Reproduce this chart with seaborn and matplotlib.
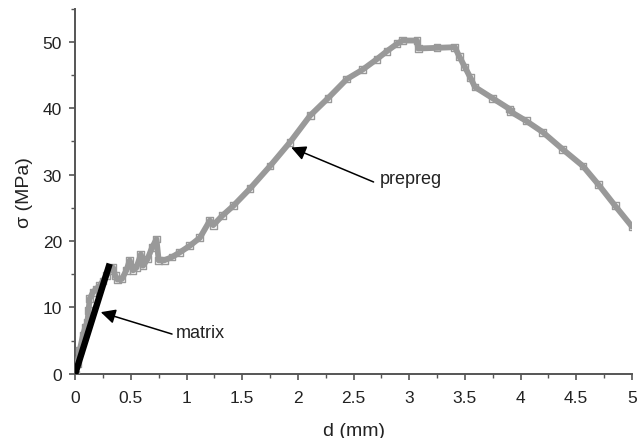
import matplotlib
matplotlib.use("Agg")
import matplotlib.pyplot as plt
import seaborn as sns
import pandas as pd
from matplotlib.ticker import MultipleLocator

# ---- data ----
prepreg_d = [0.00, 0.02, 0.04, 0.07, 0.09, 0.11, 0.12, 0.13, 0.16, 0.19, 0.22, 0.25,
             0.28, 0.31, 0.34, 0.36, 0.38, 0.42, 0.46, 0.49, 0.52, 0.55, 0.59, 0.61,
             0.65, 0.69, 0.73, 0.75, 0.80, 0.87, 0.94, 1.03, 1.12, 1.21, 1.24, 1.32,
             1.42, 1.57, 1.75, 1.93, 2.11, 2.27, 2.44, 2.58, 2.71, 2.80, 2.89, 2.94,
             3.07, 3.08, 3.25, 3.41, 3.45, 3.50, 3.55, 3.59, 3.75, 3.90, 3.91, 4.05,
             4.20, 4.38, 4.56, 4.70, 4.85, 5.00]
prepreg_s = [0.0, 1.5, 3.5, 5.8, 7.0, 7.8, 9.5, 11.3, 12.3, 12.8, 13.3, 14.0,
             14.8, 15.6, 16.0, 14.8, 14.2, 14.3, 15.6, 17.1, 15.6, 16.0, 18.0, 16.3,
             17.3, 19.0, 20.3, 17.1, 17.1, 17.6, 18.3, 19.3, 20.5, 23.1, 22.4, 23.8,
             25.3, 27.9, 31.3, 34.9, 38.9, 41.5, 44.4, 45.8, 47.4, 48.6, 49.7, 50.2,
             50.2, 49.0, 49.1, 49.2, 47.8, 46.2, 44.6, 43.2, 41.5, 39.9, 39.5, 38.1,
             36.4, 33.8, 31.3, 28.5, 25.3, 22.2]
matrix_d = [0.00, 0.31]
matrix_s = [0.0, 16.6]

x_ticks = [0, 0.5, 1, 1.5, 2, 2.5, 3, 3.5, 4, 4.5, 5]
x_tick_labels = ["0", "0.5", "1", "1.5", "2", "2.5", "3", "3.5", "4", "4.5", "5"]
y_ticks = [0, 10, 20, 30, 40, 50]

prepreg = pd.DataFrame({"d": prepreg_d, "s": prepreg_s})
matrix = pd.DataFrame({"d": matrix_d, "s": matrix_s})

sns.set_style("ticks")
plt.rcParams["font.family"] = ["Liberation Sans", "DejaVu Sans"]

fig = plt.figure(figsize=(6.37, 4.39), dpi=100)
ax = fig.add_axes([0.118, 0.146, 0.874, 0.832])

gray = "#999999"
sns.lineplot(data=prepreg, x="d", y="s", ax=ax, color=gray, lw=4.2,
             sort=False, estimator=None, zorder=2)
sns.scatterplot(data=prepreg, x="d", y="s", ax=ax, marker="s", s=24,
                facecolor="none", edgecolor=gray, linewidth=1.0, zorder=3)
sns.lineplot(data=matrix, x="d", y="s", ax=ax, color="black", lw=4.6,
             sort=False, estimator=None, zorder=4, solid_capstyle="butt")

ax.set_xlim(0, 5)
ax.set_ylim(0, 55)
ax.set_xticks(x_ticks)
ax.set_xticklabels(x_tick_labels)
ax.set_yticks(y_ticks)
ax.xaxis.set_minor_locator(MultipleLocator(0.25))
ax.yaxis.set_minor_locator(MultipleLocator(5))

spine_c = "#555555"
txt_c = "#222222"
for side in ["top", "right"]:
    ax.spines[side].set_visible(False)
for side in ["left", "bottom"]:
    ax.spines[side].set_color(spine_c)
    ax.spines[side].set_linewidth(1.4)
    ax.spines[side].set_zorder(1)
ax.tick_params(which="major", length=4.5, width=1.2, color=spine_c,
               labelsize=12.5, labelcolor=txt_c)
ax.tick_params(axis="x", which="major", pad=7)
ax.tick_params(axis="y", which="major", pad=5)
ax.tick_params(which="minor", length=3, width=1.0, color=spine_c)

ax.set_xlabel("d (mm)", fontsize=14, color=txt_c, labelpad=12)
ax.set_ylabel("σ (MPa)", fontsize=14, color=txt_c, labelpad=7)

arrow = dict(arrowstyle="-|>", color="black", lw=1.1, mutation_scale=22,
             shrinkA=0, shrinkB=0)
ax.annotate("", xy=(0.23, 9.3), xytext=(0.87, 6.0), arrowprops=arrow, zorder=5)
ax.text(0.9, 6.3, "matrix", fontsize=13, va="center", ha="left", color=txt_c)
ax.annotate("", xy=(1.94, 34.1), xytext=(2.68, 28.9), arrowprops=arrow, zorder=5)
ax.text(2.74, 29.4, "prepreg", fontsize=13, va="center", ha="left", color=txt_c)

fig.savefig("out.png", dpi=100)
